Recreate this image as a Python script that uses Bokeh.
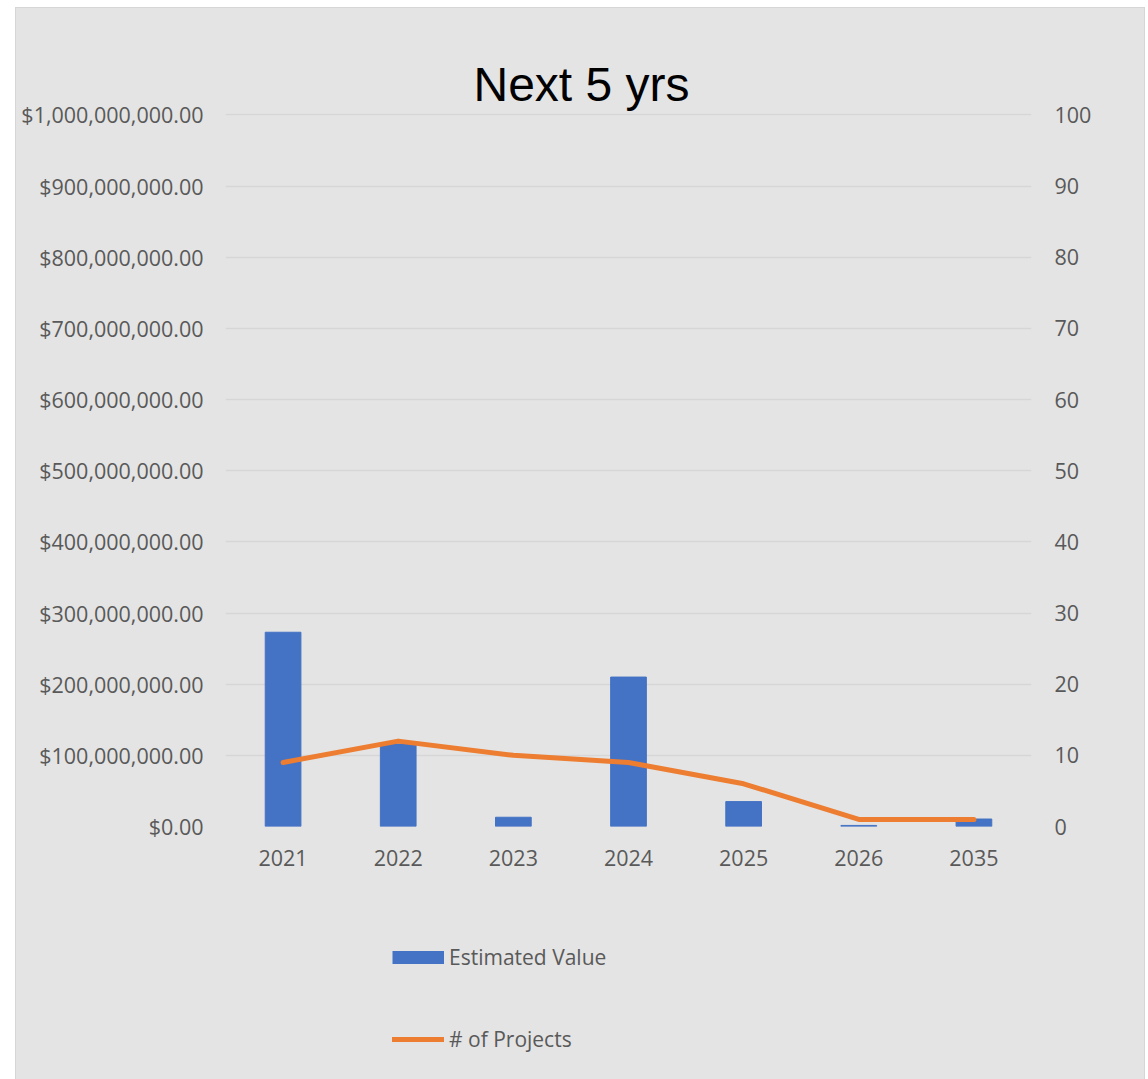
from bokeh.plotting import figure
from bokeh.layouts import column
from bokeh.models import (Range1d, LinearAxis, NumeralTickFormatter, FixedTicker,
                          Legend, LegendItem, FactorRange)
from bokeh.embed import file_html
from bokeh.resources import INLINE

years = ["2021", "2022", "2023", "2024", "2025", "2026", "2035"]
estimated_value = [273e6, 116e6, 13e6, 210e6, 35e6, 1.5e6, 10.5e6]
num_projects = [9, 12, 10, 9, 6, 1, 1]
series_names = ["Estimated Value", "# of Projects"]

BG = "#e4e4e4"
TXT = "#595959"
FONT = "Open Sans"
BLUE = "#4472c4"
ORANGE = "#ed7d31"

p = figure(width=1128, height=892,
           x_range=FactorRange(*years), y_range=Range1d(0, 1.002e9),
           output_backend="svg", toolbar_location=None,
           background_fill_color=BG, border_fill_color=BG,
           min_border_left=209, min_border_right=113,
           min_border_top=105, min_border_bottom=74)
p.outline_line_color = None
p.extra_y_ranges = {"count": Range1d(0, 100.2)}

p.vbar(x=years, top=estimated_value, width=0.31, color=BLUE)
p.line(x=years, y=num_projects, y_range_name="count",
       line_color=ORANGE, line_width=5, line_cap="round", line_join="round")

# axes
p.xgrid.grid_line_color = None
p.ygrid.grid_line_color = "#d6d6d6"
p.ygrid.grid_line_width = 1.3

la = p.yaxis[0]
la.ticker = FixedTicker(ticks=[i * 1e8 for i in range(11)])
la.formatter = NumeralTickFormatter(format="$0,0.00")
ra = LinearAxis(y_range_name="count", ticker=FixedTicker(ticks=list(range(0, 101, 10))))
p.add_layout(ra, "right")

for ax in [la, ra, p.xaxis[0]]:
    ax.axis_line_color = None
    ax.major_tick_line_color = None
    ax.minor_tick_line_color = None
    ax.major_label_text_font = FONT
    ax.major_label_text_font_size = "21.5px"
    ax.major_label_text_color = TXT
la.major_label_standoff = 16
ra.major_label_standoff = 17
p.xaxis[0].major_label_standoff = 17

# title
p.title.text = "Next 5 yrs"
p.title.text_font = "Liberation Sans"
p.title.text_font_size = "48px"
p.title.text_font_style = "normal"
p.title.text_color = "#000000"
p.title.align = "left"
p.title.offset = 248
p.title.standoff = 6

# legend panel below the chart (proxy glyphs sit outside the visible range)
p2 = figure(width=1128, height=179, x_range=Range1d(0, 1), y_range=Range1d(0, 1),
            output_backend="svg", toolbar_location=None,
            background_fill_color=BG, border_fill_color=BG,
            min_border=0)
p2.outline_line_color = None
p2.axis.visible = False
p2.grid.visible = False
lb = p2.line(x=[5, 6], y=[5, 5], line_color=BLUE, line_width=13, line_cap="butt")
ll = p2.line(x=[5, 6], y=[5, 5], line_color=ORANGE, line_width=5, line_cap="round")

legend = Legend(items=[LegendItem(label=series_names[0], renderers=[lb]),
                       LegendItem(label=series_names[1], renderers=[ll])],
                location=(167, 26), orientation="vertical",
                glyph_width=52, glyph_height=14, label_height=20, spacing=54,
                padding=0, margin=0, label_standoff=5,
                background_fill_alpha=0, border_line_color=None,
                label_text_font=FONT, label_text_font_size="21px", label_text_color=TXT)
p2.add_layout(legend, "center")

layout = column(p, p2, spacing=0, margin=(8, 4, 0, 16),
                styles={"outline": "1px solid #d6d6d6", "background-color": BG})

open("out.html", "w").write(file_html(layout, INLINE))
